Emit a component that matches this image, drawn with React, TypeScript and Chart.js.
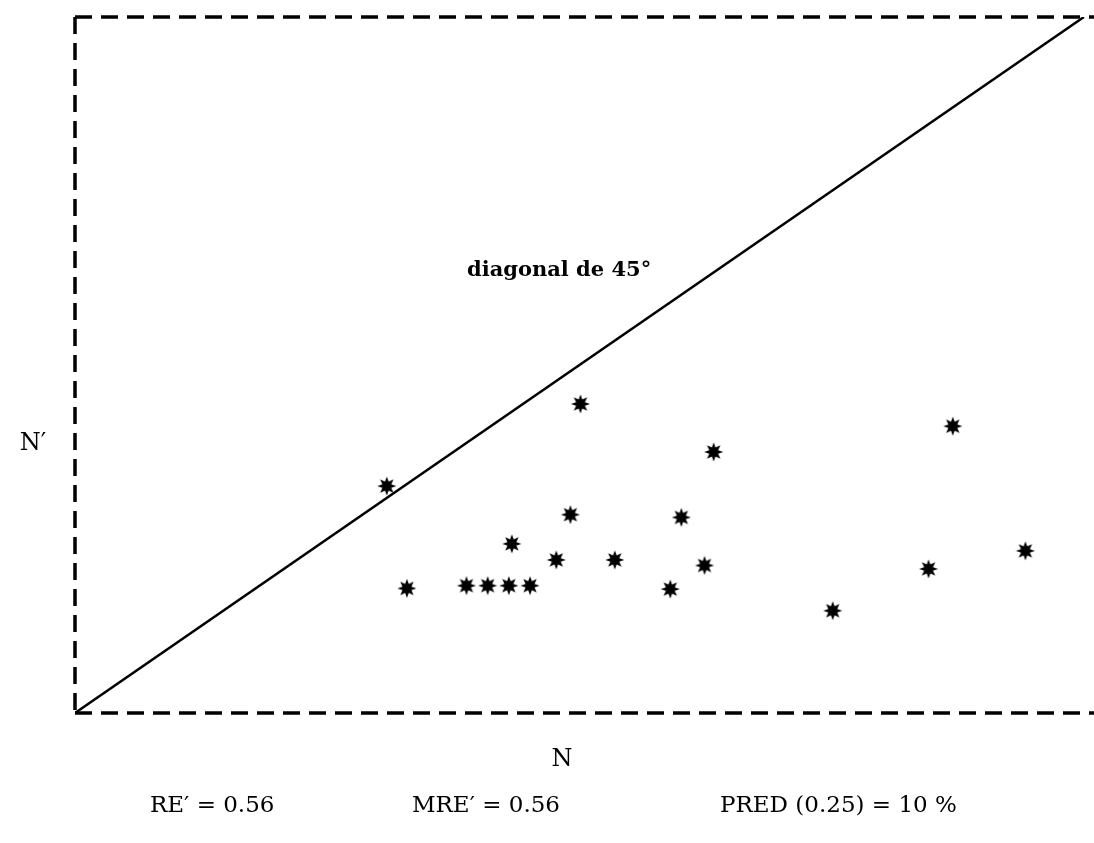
import React, { useEffect, useRef } from "react";
import { Chart, registerables } from "chart.js";

Chart.register(...registerables);

// Observed N (x) and estimated N' (y) values, in % of the axis range
const nValues = [30.9, 32.9, 38.8, 40.9, 43.0, 45.1, 43.3, 47.7, 49.1, 50.1, 53.5, 59.0, 60.1, 62.4, 63.3, 75.1, 84.6, 87.0, 94.2];
const nPrimeValues = [32.6, 17.9, 18.3, 18.3, 18.3, 18.3, 24.3, 22.0, 28.5, 44.4, 22.0, 17.8, 28.1, 21.2, 37.5, 14.7, 20.7, 41.2, 23.3];
const diagonalX = [0, 100];
const diagonalY = [0, 100];

const xLabel = "N";
const yLabel = "N\u2032";
const diagonalLabel = "diagonal de 45\u00b0";
const statLabels = ["RE\u2032 = 0.56", "MRE\u2032 = 0.56", "PRED (0.25) = 10 %"];

function makeStar(): HTMLCanvasElement {
  const size = 20;
  const c = document.createElement("canvas");
  c.width = size;
  c.height = size;
  const g = c.getContext("2d")!;
  const cx = size / 2;
  const cy = size / 2;
  const outer = 9.5;
  const inner = 4.8;
  g.beginPath();
  for (let i = 0; i < 16; i++) {
    const r = i % 2 === 0 ? outer : inner;
    const a = (Math.PI / 8) * i - Math.PI / 2;
    const px = cx + r * Math.cos(a);
    const py = cy + r * Math.sin(a);
    if (i === 0) g.moveTo(px, py);
    else g.lineTo(px, py);
  }
  g.closePath();
  g.fillStyle = "#000";
  g.fill();
  return c;
}

const framePlugin = {
  id: "dashedFrame",
  beforeDatasetsDraw(chart: any) {
    const { ctx, chartArea } = chart;
    const { left, top, right, bottom } = chartArea;
    ctx.save();
    ctx.strokeStyle = "#000";
    ctx.lineWidth = 3.5;
    ctx.setLineDash([17, 9]);
    ctx.beginPath();
    ctx.moveTo(left, top);
    ctx.lineTo(right, top);
    ctx.stroke();
    ctx.beginPath();
    ctx.moveTo(left, top);
    ctx.lineTo(left, bottom);
    ctx.stroke();
    ctx.beginPath();
    ctx.moveTo(left, bottom);
    ctx.lineTo(right, bottom);
    ctx.stroke();
    ctx.restore();
  },
};

const textPlugin = {
  id: "textLabels",
  afterDraw(chart: any) {
    const { ctx, chartArea } = chart;
    ctx.save();
    ctx.fillStyle = "#000";
    ctx.textBaseline = "alphabetic";
    ctx.textAlign = "center";
    ctx.font = "24px 'DejaVu Serif'";
    ctx.fillText(yLabel, chartArea.left - 42, 450);
    ctx.fillText(xLabel, 562, 766);
    ctx.font = "bold 21px 'DejaVu Serif'";
    ctx.textAlign = "left";
    ctx.fillText(diagonalLabel, 467, 276);
    ctx.font = "23px 'DejaVu Serif'";
    const starts = [150, 412, 720];
    statLabels.forEach((t, i) => ctx.fillText(t, starts[i], 812));
    ctx.restore();
  },
};

const hiddenAxis = {
  grid: { display: false, drawTicks: false },
  ticks: { display: false },
  border: { display: false },
};

export default function App() {
  const ref = useRef<HTMLCanvasElement | null>(null);
  useEffect(() => {
    if (!ref.current) return;
    const star = makeStar();
    const chart = new Chart(ref.current, {
      type: "scatter",
      data: {
        datasets: [
          {
            type: "line",
            data: diagonalX.map((x, i) => ({ x, y: diagonalY[i] })),
            borderColor: "#000",
            borderWidth: 2.5,
            pointRadius: 0,
            fill: false,
            tension: 0,
          } as any,
          {
            type: "scatter",
            data: nValues.map((x, i) => ({ x, y: nPrimeValues[i] })),
            pointStyle: star,
            pointRadius: 10,
            borderColor: "#000",
            backgroundColor: "#000",
          },
        ],
      },
      options: {
        responsive: false,
        animation: false,
        layout: { autoPadding: false, padding: { left: 75, top: 17, right: 0, bottom: 130 } },
        plugins: { legend: { display: false }, tooltip: { enabled: false } },
        scales: {
          x: { type: "linear", position: "bottom", min: 0, max: 101, ...hiddenAxis },
          y: { type: "linear", position: "left", min: 0, max: 100, ...hiddenAxis },
        },
      } as any,
      plugins: [framePlugin, textPlugin],
    });
    return () => chart.destroy();
  }, []);
  return (
    <div style={{ position: "absolute", left: 0, top: 0, width: 1094, height: 843, background: "#fff" }}>
      <canvas ref={ref} width={1094} height={843} />
    </div>
  );
}
